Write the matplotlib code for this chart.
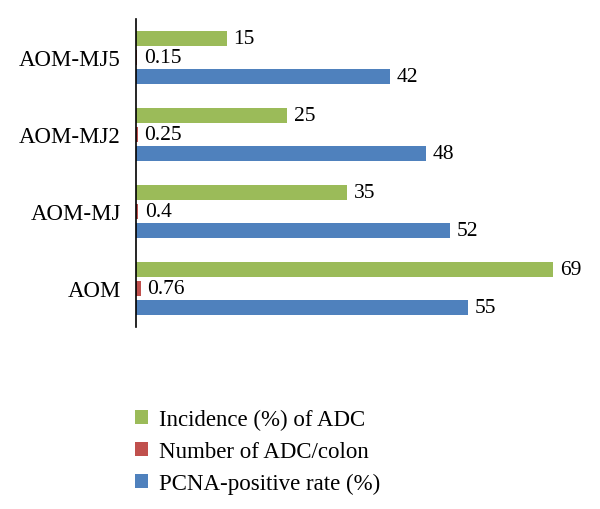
import numpy as np
import matplotlib
matplotlib.use("Agg")
import matplotlib.pyplot as plt
from matplotlib.patches import Patch

# Data (bottom to top as drawn)
groups = ["AOM", "AOM-MJ", "AOM-MJ2", "AOM-MJ5"]
incidence = [69, 35, 25, 15]
number_adc = [0.76, 0.4, 0.25, 0.15]
pcna_rate = [55, 52, 48, 42]

series_names = ["Incidence (%) of ADC", "Number of ADC/colon", "PCNA-positive rate (%)"]
colors = ["#9BBB59", "#C0504D", "#4F81BD"]

plt.rcParams["font.family"] = ["Liberation Serif", "DejaVu Serif"]

fig = plt.figure(figsize=(6, 5.1), dpi=100)
ax = fig.add_axes([0.2267, 0.357, 0.755, 0.604])

y = np.arange(len(groups))
offset = 0.247
height = 0.195

# green on top, red in the middle, blue at bottom within each group
for vals, off, col in zip([incidence, number_adc, pcna_rate], [offset, 0, -offset], colors):
    bars = ax.barh(y + off, vals, height=height, color=col)
    ax.bar_label(bars, fmt="%g", padding=5, fontsize=15.5)

ax.set_xlim(0, 75)
ax.set_ylim(-0.5, 3.5)
ax.set_yticks(y)
ax.set_yticklabels(groups, fontsize=16.5)
ax.tick_params(axis="y", length=0, pad=11)
ax.set_xticks([])
for side in ["top", "right", "bottom"]:
    ax.spines[side].set_visible(False)
ax.spines["left"].set_linewidth(1.2)

handles = [Patch(facecolor=c, edgecolor="none") for c in colors]
fig.legend(handles, series_names, loc="upper left", bbox_to_anchor=(0.21, 0.214),
           frameon=False, fontsize=16.5, handlelength=0.55, handleheight=0.55,
           handletextpad=0.5, labelspacing=0.47, borderaxespad=0)

fig.savefig("out.png", dpi=100)
